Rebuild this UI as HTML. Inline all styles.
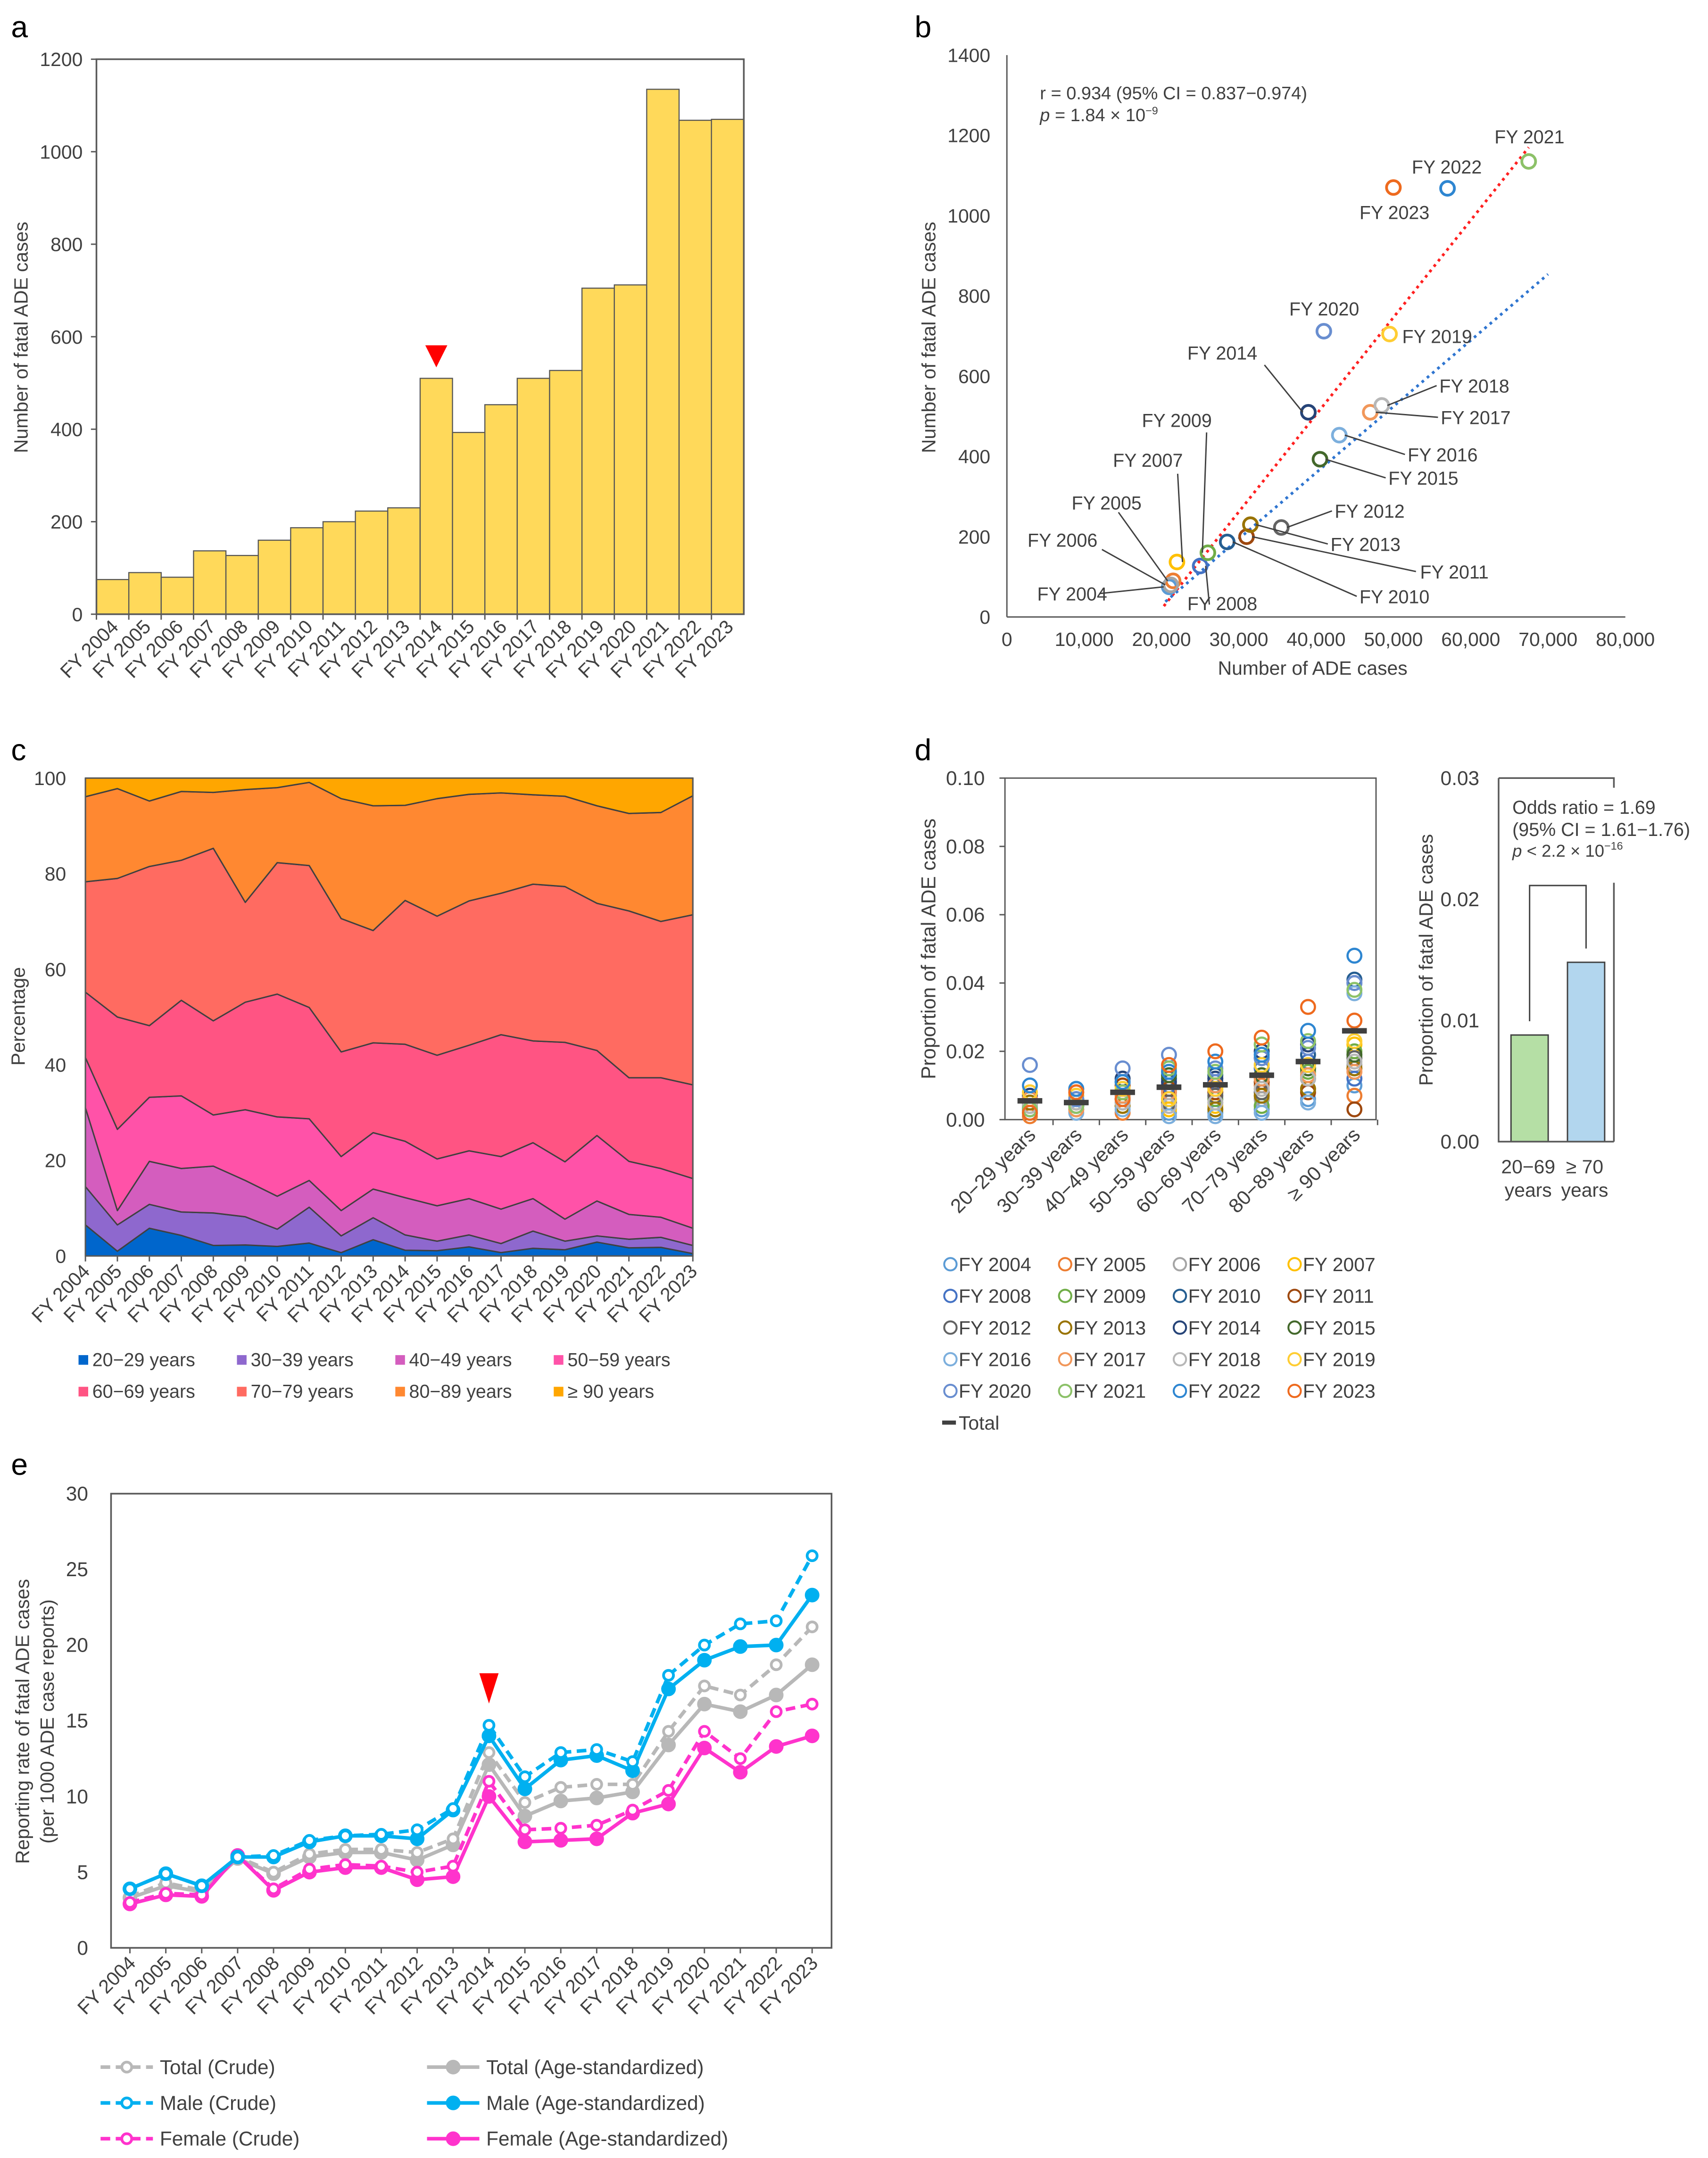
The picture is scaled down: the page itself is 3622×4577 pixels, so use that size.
<!DOCTYPE html>
<html><head><meta charset="utf-8">
<style>
html,body{margin:0;padding:0;background:#fff;}
svg{display:block;font-family:"Liberation Sans",Arial,sans-serif;}
</style></head>
<body>
<svg id="fig" xmlns="http://www.w3.org/2000/svg" width="3622" height="4577" viewBox="0 0 1240 1567">
<rect x="0" y="0" width="1240" height="1567" fill="#fff"/>
</svg>
<script>
// ---------- DATA ----------
const years = ["FY 2004","FY 2005","FY 2006","FY 2007","FY 2008","FY 2009","FY 2010","FY 2011","FY 2012","FY 2013","FY 2014","FY 2015","FY 2016","FY 2017","FY 2018","FY 2019","FY 2020","FY 2021","FY 2022","FY 2023"];
// panel a
const fatalCases = [75,90,80,137,127,160,187,200,223,230,510,393,453,510,527,705,712,1135,1068,1070];
const aTicks = [0,200,400,600,800,1000,1200];
// panel b
const adeCases = [21000,21500,21200,22000,25000,26000,28500,31000,35500,31500,39000,40500,43000,47000,48500,49500,41000,67500,57000,50000];
const bXTicks = [0,10000,20000,30000,40000,50000,60000,70000,80000];
const bYTicks = [0,200,400,600,800,1000,1200,1400];
const redFitX = [20300,67500];
const redFitY = [27,1170];
const blueFitX = [20500,70000];
const blueFitY = [38,854];
// panel c cumulative boundaries (%)
const c2029 = [6.5,1,5.8,4.3,2.2,2.3,2,2.7,0.7,3.4,1.2,1.1,1.9,0.7,1.6,1.3,2.9,1.7,1.8,0.5];
const c3039 = [14.5,6.5,10.8,9.2,9,8.2,5.6,10.2,4.2,8,4.4,3.1,4.4,2.6,5.2,3.1,4.2,3.5,3.9,2.2];
const c4049 = [31,9.5,19.8,18.3,18.8,15.8,12.5,15.8,9.5,14,12.2,10.5,12,9.8,12,7.7,11.5,8.7,8.1,5.8];
const c5059 = [41.5,26.5,33.2,33.5,29.5,30.6,29.1,28.7,20.8,25.8,24,20.3,22,20.8,23.7,19.7,25.2,19.8,18.3,16.2];
const c6069 = [55.2,50,48.2,53.5,49.2,53.1,54.8,52,42.7,44.6,44.3,42,44.1,46.3,45,44.7,43,37.3,37.3,35.8];
const c7079 = [78.3,79,81.5,82.8,85.3,74,82.3,81.7,70.6,68.1,74.4,71.1,74.3,75.9,77.8,77.3,73.8,72.2,70,71.4];
const c8089 = [96.1,97.8,95.2,97.2,97,97.6,98,99.1,95.7,94.2,94.3,95.7,96.6,96.9,96.5,96.2,94.2,92.6,92.8,96.3];
const ageGroups = ["20\u221229 years","30\u221239 years","40\u221249 years","50\u221259 years","60\u221269 years","70\u221279 years","80\u221289 years","\u2265 90 years"];
const cTicks = [0,20,40,60,80,100];
// panel d (rows = age groups, cols = FY2004..2023)
const dProp0 = [0.004,0.001,0.003,0.006,0.003,0.005,0.002,0.004,0.003,0.005,0.007,0.004,0.002,0.006,0.004,0.008,0.016,0.003,0.010,0.002];
const dProp1 = [0.003,0.008,0.004,0.005,0.006,0.003,0.009,0.007,0.004,0.005,0.004,0.006,0.002,0.003,0.005,0.007,0.006,0.004,0.009,0.008];
const dProp2 = [0.005,0.002,0.007,0.004,0.009,0.006,0.011,0.010,0.008,0.004,0.012,0.006,0.003,0.007,0.005,0.009,0.015,0.008,0.011,0.006];
const dProp3 = [0.002,0.004,0.007,0.003,0.010,0.008,0.012,0.009,0.005,0.006,0.011,0.013,0.001,0.008,0.004,0.006,0.019,0.015,0.014,0.016];
const dProp4 = [0.002,0.005,0.009,0.004,0.011,0.006,0.013,0.008,0.007,0.003,0.012,0.010,0.001,0.010,0.005,0.009,0.015,0.014,0.017,0.020];
const dProp5 = [0.003,0.010,0.006,0.009,0.015,0.004,0.018,0.011,0.008,0.007,0.020,0.013,0.002,0.012,0.009,0.016,0.018,0.022,0.019,0.024];
const dProp6 = [0.006,0.009,0.013,0.012,0.017,0.014,0.019,0.008,0.012,0.009,0.022,0.015,0.005,0.013,0.012,0.016,0.021,0.023,0.026,0.033];
const dProp7 = [0.010,0.007,0.016,0.022,0.012,0.020,0.041,0.003,0.018,0.015,0.040,0.019,0.037,0.014,0.017,0.023,0.040,0.038,0.048,0.029];
const dTotal = [0.0055,0.005,0.008,0.0095,0.0102,0.013,0.017,0.026];
const dTicks = [0,0.02,0.04,0.06,0.08,0.10];
const d2Groups = ["20\u221269","\u2265 70"];
const d2Values = [0.0088,0.0148];
const d2Ticks = [0,0.01,0.02,0.03];
// panel e
const maleCrude = [3.9,4.9,4.1,6.0,6.1,7.1,7.4,7.5,7.8,9.2,14.7,11.3,12.9,13.1,12.3,18.0,20.0,21.4,21.6,25.9];
const maleStd = [3.9,4.9,4.1,6.0,6.0,7.0,7.4,7.4,7.2,9.1,14.0,10.5,12.4,12.7,11.7,17.1,19.0,19.9,20.0,23.3];
const totalCrude = [3.4,4.3,3.8,6.0,5.0,6.2,6.5,6.5,6.3,7.2,12.9,9.6,10.6,10.8,10.8,14.3,17.3,16.7,18.7,21.2];
const totalStd = [3.3,4.1,3.7,5.9,4.9,6.0,6.3,6.3,5.8,6.8,12.1,8.7,9.7,9.9,10.3,13.4,16.1,15.6,16.7,18.7];
const femaleCrude = [3.0,3.6,3.5,6.1,3.9,5.2,5.5,5.4,5.0,5.4,11.0,7.8,7.9,8.1,9.1,10.4,14.3,12.5,15.6,16.1];
const femaleStd = [2.9,3.5,3.4,6.1,3.8,5.0,5.3,5.3,4.5,4.7,10.0,7.0,7.1,7.2,8.9,9.5,13.2,11.6,13.3,14.0];
const eTicks = [0,5,10,15,20,25,30];

// ---------- helpers ----------
const NS = "http://www.w3.org/2000/svg";
const svg = document.getElementById("fig");
const TXT = "#404040";
const FS = 14;
function mk(tag, attrs, parent){const e=document.createElementNS(NS,tag);for(const k in attrs)e.setAttribute(k,attrs[k]);(parent||svg).appendChild(e);return e;}
function tx(s,x,y,size,anchor,parent,extra){const e=mk("text",Object.assign({x:x,y:y,"font-size":size,"text-anchor":anchor||"start",fill:TXT},extra||{}),parent);e.textContent=s;return e;}
function fmtK(v){return v.toString().replace(/\B(?=(\d{3})+(?!\d))/g,",");}
const yearColors = ["#5B9BD5","#ED7D31","#A5A5A5","#FFC000","#4472C4","#70AD47","#255E91","#9E480E","#636363","#997300","#264478","#43682B","#7CAFDD","#F1975A","#B7B7B7","#FFCD33","#698ED0","#8CC168","#2E86D1","#EE6A1E"];

// panel letters
["a","b","c","d","e"].forEach((L,i)=>{
  const pos=[[8,27],[664,27],[8,552],[664,552],[8,1071]][i];
  const t=tx(L,pos[0],pos[1],22,"start",svg,{fill:"#000"});
  
  
});

// ---------- PANEL A ----------
const gA = mk("g",{});


const aL=70,aR=540,aT=43,aB=446;
const xA = i => aL + (i+0.5)*(aR-aL)/years.length;
const yA = v => aB - v*(aB-aT)/1200;
const bwA = (aR-aL)/years.length;
fatalCases.forEach((v,i)=>{
  const r=mk("rect",{x:xA(i)-bwA/2,y:yA(v),width:bwA,height:aB-yA(v),fill:"#FFD95A",stroke:"#555","stroke-width":0.8},gA);
  
  
});
const fA=mk("rect",{x:aL,y:aT,width:aR-aL,height:aB-aT,fill:"none",stroke:"#595959","stroke-width":1.2},gA);


aTicks.forEach(v=>{
  const t=tx(String(v),60,yA(v)+5,FS,"end",gA);
  
  
  mk("line",{x1:aL-4,x2:aL,y1:yA(v),y2:yA(v),stroke:"#595959"},gA);
});
years.forEach((y,i)=>{
  mk("line",{x1:aL+i*bwA,x2:aL+i*bwA,y1:aB,y2:aB+4,stroke:"#595959"},gA);
  const t=tx(y,xA(i)+5,aB+10,FS,"end",gA,{transform:`rotate(-45 ${xA(i)+5} ${aB+10})`});
  
  
});
const yla=tx("Number of fatal ADE cases",20,245,FS,"middle",gA,{transform:"rotate(-90 20 245)"});


const triA=mk("polygon",{points:`${xA(10)-8},${yA(fatalCases[10])-24} ${xA(10)+8},${yA(fatalCases[10])-24} ${xA(10)},${yA(fatalCases[10])-8}`,fill:"#FF0000"},gA);



// ---------- PANEL B ----------
const gB = mk("g",{});


const bL=731,bR=1180,bT=40,bB=448;
const xB = v => bL + v*(bR-bL)/80000;
const yB = v => bB - v*(bB-bT)/1400;
mk("line",{x1:bL,x2:bL,y1:bT,y2:bB,stroke:"#595959","stroke-width":1},gB);
mk("line",{x1:bL,x2:bR,y1:bB,y2:bB,stroke:"#595959","stroke-width":1},gB);
bYTicks.forEach(v=>{
  const t=tx(String(v),719,yB(v)+5,FS,"end",gB);
  
  
});
bXTicks.forEach(v=>{
  const t=tx(fmtK(v),xB(v),469,FS,"middle",gB);
  
  
});
const xlb=tx("Number of ADE cases",953,490,FS,"middle",gB);


const ylb=tx("Number of fatal ADE cases",679,245,FS,"middle",gB,{transform:"rotate(-90 679 245)"});


const st1=tx("r = 0.934 (95% CI = 0.837\u22120.974)",755,72,13,"start",gB);


const st2=mk("text",{x:755,y:88,"font-size":13,fill:TXT},gB);
st2.innerHTML='<tspan font-style="italic">p</tspan> = 1.84 \u00d7 10<tspan dy="-5" font-size="8">\u22129</tspan>';


const rl=mk("line",{x1:xB(redFitX[0]),y1:yB(redFitY[0]),x2:xB(redFitX[1]),y2:yB(redFitY[1]),stroke:"#FF2020","stroke-width":2,"stroke-dasharray":"2,3"},gB);


const bl=mk("line",{x1:xB(blueFitX[0]),y1:yB(blueFitY[0]),x2:xB(blueFitX[1]),y2:yB(blueFitY[1]),stroke:"#2F75D0","stroke-width":2,"stroke-dasharray":"2,3"},gB);


adeCases.forEach((v,i)=>{
  const c=mk("circle",{cx:xB(v),cy:yB(fatalCases[i]),r:5,fill:"none",stroke:yearColors[i],"stroke-width":2},gB);
  
  
});
const bLab = [
 [753,436,[798,431]],[778,370,[812,372]],[746,397,[800,399]],[808,339,[855,344]],[862,443,[878,439]],
 [829,310,[876,314]],[987,438,[985,433]],[1031,420,[1028,415]],[969,376,[967,371]],[966,400,[964,395]],
 [862,261,[918,265]],[1008,352,[1006,347]],[1022,335,[1020,330]],[1046,308,[1044,303]],[1045,285,[1043,280]],
 [1018,249,null],[936,229,null],[1085,104,null],[1025,126,null],[987,159,null]];
bLab.forEach((L,i)=>{
  const px=xB(adeCases[i]), py=yB(fatalCases[i]);
  if(L[2]){
    const ex=L[2][0], ey=L[2][1];
    const ln=mk("line",{x1:ex,y1:ey,x2:px+(ex<px?-4:4),y2:py,stroke:"#404040","stroke-width":1},gB);
    
    
  }
  const t=tx(years[i],L[0],L[1],13.5,"start",gB);
  
  
});

// ---------- PANEL C ----------
const gC = mk("g",{});


const cL=62,cR=503,cT=565,cB=912;
const xC = i => cL + i*(cR-cL)/(years.length-1);
const yC = v => cB - v*(cB-cT)/100;
const zeros = years.map(()=>0), hundreds = years.map(()=>100);
const bounds = [zeros,c2029,c3039,c4049,c5059,c6069,c7079,c8089,hundreds];
const cColors = ["#0066CC","#8E68CE","#D45DBE","#FF52A8","#FF5483","#FF6B61","#FF8831","#FFA600"];
for(let k=0;k<8;k++){
  const lo=bounds[k], hi=bounds[k+1];
  let pts=hi.map((v,i)=>`${xC(i)},${yC(v)}`).concat(lo.map((v,i)=>`${xC(i)},${yC(v)}`).reverse());
  const p=mk("polygon",{points:pts.join(" "),fill:cColors[k],stroke:"#404040","stroke-width":1,"stroke-linejoin":"round"},gC);
  
  
}
mk("rect",{x:cL,y:cT,width:cR-cL,height:cB-cT,fill:"none",stroke:"#595959","stroke-width":1},gC);
cTicks.forEach(v=>{
  const t=tx(String(v),48,yC(v)+5,FS,"end",gC);
  
  
});
years.forEach((y,i)=>{
  mk("line",{x1:xC(i),x2:xC(i),y1:cB,y2:cB+4,stroke:"#595959"},gC);
  const t=tx(y,xC(i)+4,cB+12,FS,"end",gC,{transform:`rotate(-45 ${xC(i)+4} ${cB+12})`});
  
  
});
const ylc=tx("Percentage",18,738,FS,"middle",gC,{transform:"rotate(-90 18 738)"});


ageGroups.forEach((g,k)=>{
  const lx=57+(k%4)*115, ly=988+Math.floor(k/4)*23;
  const sq=mk("rect",{x:lx,y:ly-4,width:7,height:7,fill:cColors[k]},gC);
  
  
  const t=tx(g,lx+10,ly+4,13.5,"start",gC);
  
  
});

// ---------- PANEL D (scatter) ----------
const gD = mk("g",{});


const dL=729.6,dR=999,dT=565,dB=813;
const xD = c => 747.7 + c*33.66;
const yD = v => dB - v*(dB-dT)/0.10;
mk("rect",{x:dL,y:dT,width:dR-dL,height:dB-dT,fill:"none",stroke:"#595959","stroke-width":1},gD);
dTicks.forEach(v=>{
  mk("line",{x1:dL-4,x2:dL,y1:yD(v),y2:yD(v),stroke:"#595959"},gD);
  const t=tx(v.toFixed(2),715,yD(v)+5,14.5,"end",gD);
  
  
});
const dRows=[dProp0,dProp1,dProp2,dProp3,dProp4,dProp5,dProp6,dProp7];
dRows.forEach((row,c)=>{
  row.forEach((v,i)=>{
    const cc=mk("circle",{cx:xD(c),cy:yD(v),r:5,fill:"none",stroke:yearColors[i],"stroke-width":1.6},gD);
    
    
  });
});
dTotal.forEach((v,c)=>{
  const m=mk("line",{x1:xD(c)-9,x2:xD(c)+9,y1:yD(v),y2:yD(v),stroke:"#404040","stroke-width":4},gD);
  
  
});
ageGroups.forEach((g,c)=>{
  mk("line",{x1:xD(c)+16.8,x2:xD(c)+16.8,y1:dB,y2:dB+4,stroke:"#595959"},gD);
  const t=tx(g,xD(c)+5,dB+12,14.5,"end",gD,{transform:`rotate(-45 ${xD(c)+5} ${dB+12})`});
  
  
});
const yld=tx("Proportion of fatal ADE cases",679,689,14.5,"middle",gD,{transform:"rotate(-90 679 689)"});


years.forEach((y,i)=>{
  const lx=688+(i%4)*83.3, ly=918+Math.floor(i/4)*23;
  const c=mk("circle",{cx:lx+2,cy:ly,r:4.5,fill:"none",stroke:yearColors[i],"stroke-width":1.4},gD);
  
  
  const t=tx(y,lx+8,ly+5,14,"start",gD);
  
  
});
mk("line",{x1:684,x2:694,y1:1033,y2:1033,stroke:"#404040","stroke-width":3},gD);
const tt=tx("Total",696,1038,14,"start",gD);



// ---------- PANEL D (bar) ----------
const gD2 = mk("g",{});


const d2L=1088,d2R=1171.7,d2T=565,d2B=829;
const yD2 = v => d2B - v*(d2B-d2T)/0.03;
const d2x=[1110.5,1151.5], d2Col=["#B5DFA5","#B2D6EE"];
d2Values.forEach((v,i)=>{
  const r=mk("rect",{x:d2x[i]-13.5,y:yD2(v),width:27,height:d2B-yD2(v),fill:d2Col[i],stroke:"#404040","stroke-width":1},gD2);
  
  
});
mk("path",{d:`M${d2L},${d2T} L${d2L},${d2B} L${d2R},${d2B} M${d2L},${d2T} L${d2R},${d2T} L${d2R},572 M${d2R},641 L${d2R},${d2B}`,fill:"none",stroke:"#595959","stroke-width":1.2},gD2);
const br=mk("path",{d:`M${d2x[0]},${yD2(d2Values[0])-10} L${d2x[0]},643 L${d2x[1]},643 L${d2x[1]},${yD2(d2Values[1])-10}`,fill:"none",stroke:"#404040","stroke-width":1},gD2);


d2Ticks.forEach(v=>{
  const t=tx(v.toFixed(2),1074,yD2(v)+5,14.5,"end",gD2);
  
  
});
d2Groups.forEach((g,i)=>{
  const t=tx(g,d2x[i]-1,852,14,"middle",gD2);
  
  
  const t2=tx("years",d2x[i]-1,869,14,"middle",gD2);
  
  
});
const yld2=tx("Proportion of fatal ADE cases",1040,697,14,"middle",gD2,{transform:"rotate(-90 1040 697)"});


const o1=tx("Odds ratio = 1.69",1098,591,13.5,"start",gD2);


const o2=tx("(95% CI = 1.61\u22121.76)",1098,607,13.5,"start",gD2);


const o3=mk("text",{x:1098,y:622,"font-size":12.5,fill:TXT},gD2);
o3.innerHTML='<tspan font-style="italic">p</tspan> &lt; 2.2 \u00d7 10<tspan dy="-5" font-size="8">\u221216</tspan>';



// ---------- PANEL E ----------
const gE = mk("g",{});


const eL=80.6,eR=603.7,eT=1084.6,eB=1414.4;
const xE = i => 94.3 + i*(589.6-94.3)/(years.length-1);
const yE = v => eB - v*(eB-eT)/30;
mk("rect",{x:eL,y:eT,width:eR-eL,height:eB-eT,fill:"none",stroke:"#595959","stroke-width":1.2},gE);
eTicks.forEach(v=>{
  const t=tx(String(v),64,yE(v)+5,14.5,"end",gE);
  
  
});
years.forEach((y,i)=>{
  mk("line",{x1:xE(i),x2:xE(i),y1:eB,y2:eB+4,stroke:"#595959"},gE);
  const t=tx(y,xE(i)+5,eB+12,14,"end",gE,{transform:`rotate(-45 ${xE(i)+5} ${eB+12})`});
  
  
});
const yle1=tx("Reporting rate of fatal ADE cases",21,1250,14,"middle",gE,{transform:"rotate(-90 21 1250)"});


const yle2=tx("(per 1000 ADE case reports)",39,1250,14,"middle",gE,{transform:"rotate(-90 39 1250)"});


const eSeries=[
 {d:totalStd,c:"#B8B8B8",dash:false,n:"total-age-standardized"},
 {d:totalCrude,c:"#B8B8B8",dash:true,n:"total-crude"},
 {d:femaleStd,c:"#FF33CC",dash:false,n:"female-age-standardized"},
 {d:femaleCrude,c:"#FF33CC",dash:true,n:"female-crude"},
 {d:maleStd,c:"#00B0F0",dash:false,n:"male-age-standardized"},
 {d:maleCrude,c:"#00B0F0",dash:true,n:"male-crude"}];
eSeries.forEach(s=>{
  const g=mk("g",{},gE);
  
  
  const pl=mk("polyline",{points:s.d.map((v,i)=>`${xE(i)},${yE(v)}`).join(" "),fill:"none",stroke:s.c,"stroke-width":2.6,"stroke-dasharray":s.dash?"7,4":"none","stroke-linejoin":"round"},g);
  
  
  s.d.forEach((v,i)=>{
    const m=mk("circle",{cx:xE(i),cy:yE(v),r:s.dash?3.6:4.8,fill:s.dash?"#fff":s.c,stroke:s.c,"stroke-width":s.dash?2:1},g);
    
    
  });
});
const triE=mk("polygon",{points:`${xE(10)-7},${1215} ${xE(10)+7},${1215} ${xE(10)},${1237}`,fill:"#FF0000"},gE);


const eLeg=[["Total (Crude)","#B8B8B8",true,73,1501],["Male (Crude)","#00B0F0",true,73,1527],["Female (Crude)","#FF33CC",true,73,1553],
 ["Total (Age-standardized)","#B8B8B8",false,310,1501],["Male (Age-standardized)","#00B0F0",false,310,1527],["Female (Age-standardized)","#FF33CC",false,310,1553]];
eLeg.forEach(L=>{
  mk("line",{x1:L[3],x2:L[3]+38,y1:L[4],y2:L[4],stroke:L[1],"stroke-width":2.6,"stroke-dasharray":L[2]?"7,4":"none"},gE);
  mk("circle",{cx:L[3]+19,cy:L[4],r:L[2]?3.6:4.8,fill:L[2]?"#fff":L[1],stroke:L[1],"stroke-width":L[2]?2:1},gE);
  const t=tx(L[0],L[3]+43,L[4]+5,14.5,"start",gE);
  
  
});
</script>
</body></html>
